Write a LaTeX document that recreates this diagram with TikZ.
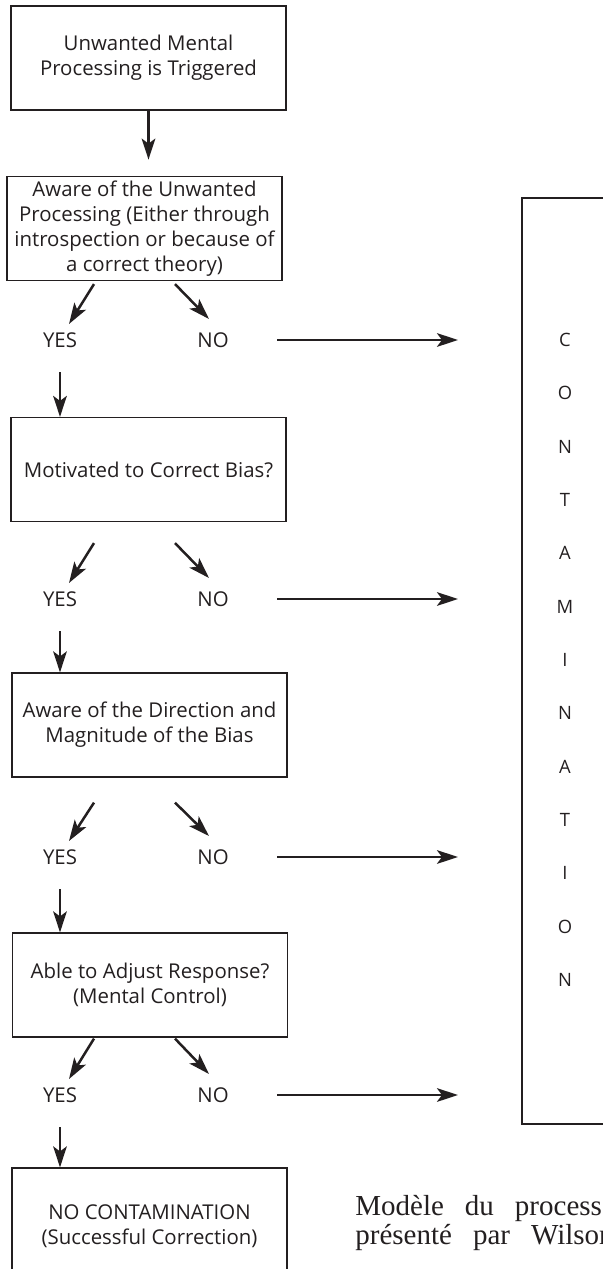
\documentclass[tikz,border=0pt]{standalone}
\usepackage{fontspec}
\setmainfont{Open Sans}
\newfontfamily\capfont{Liberation Serif}
\usetikzlibrary{arrows.meta,calc}
\definecolor{ink}{HTML}{231F20}

\tikzset{%
  every stage/.style={
    rectangle,
    draw=ink,
    line width=0.6pt,
    minimum width=137.5pt,
    minimum height=52pt,
    align=center,
    inner sep=2pt,
    font=\fontsize{10.2}{12.5}\selectfont
  },
  answer/.style={
    font=\fontsize{10.2}{12.5}\selectfont,
    inner sep=0pt
  },
  letter/.style={
    font=\fontsize{9.2}{11}\selectfont,
    inner sep=0pt
  },
  flow/.style={
    -{Stealth[length=10.5pt,width=6.8pt,inset=2.5pt]},
    line width=1.25pt,
    draw=ink
  },
}

\begin{document}
\begin{tikzpicture}[x=0.5pt,y=-0.5pt,text=ink]
\useasboundingbox (0,0) rectangle (603,1269);
\clip (0,0) rectangle (603,1269);

\node [every stage] (stage-1) at (148.5,58) {Unwanted Mental\\Processing is Triggered};
\node [every stage] (stage-2) at (144.5,228.5) {Aware of the Unwanted\\Processing (Either through\\introspection or because of\\a correct theory)};
\node [every stage] (stage-3) at (148.5,469.5) {Motivated to Correct Bias?};
\node [every stage] (stage-4) at (149.5,725) {Aware of the Direction and\\Magnitude of the Bias};
\node [every stage] (stage-5) at (150,985) {Able to Adjust Response?\\(Mental Control)};
\node [every stage, minimum height=58pt] (stage-6) at (149.5,1226) {NO CONTAMINATION\\(Successful Correction)};

\draw [flow] (stage-1.south) -- ($(stage-1.south)+(0,49)$);

\foreach \y [count=\i] in {340,599,857,1095} {
  \node [answer] (yes-\i) at (60,\y) {YES};
  \node [answer] (no-\i) at (213,\y) {NO};
  \coordinate (end-\i) at (458,\y);
}

\foreach \i/\g [count=\j from 2] in {1/3,2/21,3/25,4/1} {
  \draw [flow] ($(stage-\j.south -| yes-\i)+(34,\g)$) -- ($(yes-\i)+(9,-16)$);
  \draw [flow] ($(stage-\j.south -| yes-\i)+(115,\g)$) -- ($(no-\i)+(-4,-21)$);
  \draw [flow] ($(no-\i)+(64,0)$) -- (end-\i);
}

\foreach \i [count=\j from 3] in {1,2,3,4}
  \draw [flow] ($(yes-\i)+(0,32)$) -- (yes-\i |- stage-\j.north);

\node [draw=ink, line width=0.6pt, minimum width=89pt, minimum height=463pt, inner sep=0pt] (contamination) at (611,661) {};

\foreach \l [count=\i] in {C,O,N,T,A,M,I,N,A,T,I,O,N}
  \node [letter] (letter-\i) at (565,286.7+53.33*\i) {\l};

\node [anchor=base west, inner sep=0pt, font=\capfont\fontsize{14.5}{17}\selectfont] (caption-1) at (355,1215) {Modèle\hspace{10.5pt}du\hspace{10.5pt}process};
\node [anchor=base west, inner sep=0pt, font=\capfont\fontsize{14.5}{17}\selectfont] (caption-2) at (355,1244) {présenté\hspace{10.5pt}par\hspace{10.5pt}Wilson};

\end{tikzpicture}
\end{document}
